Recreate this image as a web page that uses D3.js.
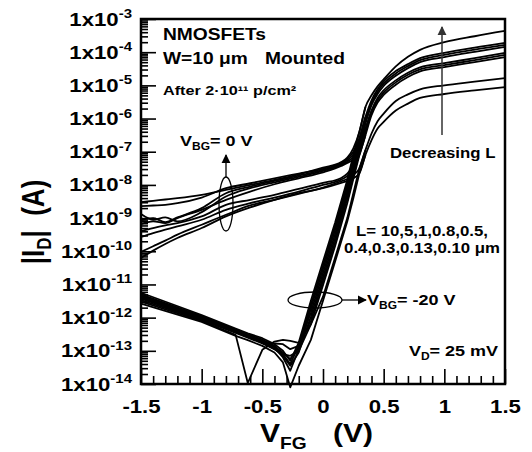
<!DOCTYPE html>
<html>
<head>
<meta charset="utf-8">
<script src="https://cdn.jsdelivr.net/npm/d3@7"></script>
<style>
  body { margin: 0; background: #fff; }
  svg { display: block; }
  text { font-family: "Liberation Sans", Arial, sans-serif; font-weight: bold; fill: #000; white-space: pre; }
</style>
</head>
<body>
<svg></svg>
<script>
const width = 532;
const height = 452;

// channel lengths (um), curves ordered from highest to lowest on-current
const lengths = ['0.10', '0.13', '0.3', '0.4', '0.5', '0.8', '1', '5', '10'];

// above ~0.3 V both back-gate biases give the same curve
const vgHigh = [0.3, 0.35, 0.4, 0.45, 0.5, 0.6, 0.7, 0.8, 1.0, 1.25, 1.5];
const logIdHigh = [
  [-6.4, -5.65, -5.3, -5.03, -4.82, -4.43, -4.14, -3.93, -3.7, -3.52, -3.36],
  [-6.6, -5.95, -5.45, -5.12, -4.88, -4.57, -4.36, -4.18, -4.02, -3.86, -3.72],
  [-6.7, -6.05, -5.52, -5.19, -4.95, -4.64, -4.42, -4.24, -4.08, -3.92, -3.78],
  [-6.8, -6.15, -5.6, -5.26, -5.02, -4.71, -4.48, -4.30, -4.15, -3.99, -3.84],
  [-6.9, -6.3, -5.75, -5.38, -5.15, -4.85, -4.62, -4.46, -4.33, -4.18, -4.02],
  [-7.0, -6.4, -5.83, -5.45, -5.22, -4.91, -4.68, -4.52, -4.39, -4.24, -4.08],
  [-7.1, -6.5, -5.9, -5.52, -5.29, -4.98, -4.75, -4.58, -4.45, -4.3, -4.15],
  [-7.5, -6.95, -6.45, -6.08, -5.85, -5.47, -5.27, -5.12, -5.0, -4.89, -4.78],
  [-7.65, -7.1, -6.65, -6.3, -6.1, -5.76, -5.55, -5.38, -5.26, -5.15, -5.05]
];

// VBG = 0 V, low VFG part
const vgLow0 = [-1.5, -1.4, -1.3, -1.2, -1.0, -0.8, -0.6, -0.4, -0.2, 0, 0.15, 0.2, 0.25];
const logIdLow0 = [
  [-8.52, -8.48, -8.44, -8.4, -8.3, -8.15, -8.0, -7.85, -7.68, -7.48, -7.31, -7.18, -6.9],
  [-8.64, -8.62, -8.6, -8.55, -8.38, -8.1, -7.95, -7.8, -7.66, -7.52, -7.34, -7.22, -7.0],
  [-9.06, -9.0, -9.12, -8.98, -8.7, -8.25, -8.05, -7.88, -7.72, -7.55, -7.37, -7.26, -7.08],
  [-8.88, -9.05, -8.98, -9.1, -8.82, -8.35, -8.1, -7.92, -7.76, -7.58, -7.40, -7.3, -7.15],
  [-9.18, -9.1, -9.15, -9.0, -8.75, -8.45, -8.2, -7.98, -7.8, -7.62, -7.43, -7.34, -7.22],
  [-9.39, -9.3, -9.22, -9.15, -8.95, -8.6, -8.45, -8.3, -8.12, -7.94, -7.79, -7.66, -7.42],
  [-9.57, -9.45, -9.35, -9.25, -9.05, -8.75, -8.55, -8.38, -8.2, -8.0, -7.84, -7.73, -7.52],
  [-10.02, -9.85, -9.68, -9.5, -9.2, -8.9, -8.62, -8.45, -8.27, -8.08, -7.89, -7.82, -7.7],
  [-10.2, -9.98, -9.78, -9.6, -9.3, -8.95, -8.68, -8.45, -8.25, -8.1, -7.94, -7.88, -7.8]
];

// VBG = -20 V, low VFG part
const vgLow20 = [-1.5, -1.0, -0.72, -0.62, -0.5, -0.4, -0.33, -0.27, -0.2, -0.1, 0, 0.1, 0.2, 0.25];
const logIdLow20 = [
  [-11.25, -11.92, -12.33, -12.47, -12.62, -12.8, -13.0, -13.3, -12.75, -11.49, -10.31, -9.13, -7.85, -7.1],
  [-11.30, -11.95, -12.36, -12.50, -12.66, -12.85, -13.1, -13.4, -12.85, -11.61, -10.43, -9.25, -7.97, -7.25],
  [-11.33, -11.97, -12.38, -12.52, -12.70, -12.9, -13.2, -13.6, -12.95, -11.72, -10.54, -9.36, -8.08, -7.37],
  [-11.36, -12.00, -12.40, -12.55, -12.72, -12.88, -13.05, -13.25, -12.9, -11.84, -10.66, -9.48, -8.2, -7.5],
  [-11.40, -12.02, -12.42, -12.57, -12.75, -12.95, -13.15, -13.45, -13.05, -11.96, -10.78, -9.60, -8.3, -7.6],
  [-11.43, -12.05, -12.44, -12.58, -12.72, -12.78, -12.8, -12.95, -12.85, -12.08, -10.90, -9.72, -8.42, -7.7],
  [-11.47, -12.07, -12.46, -12.60, -12.78, -12.95, -13.1, -13.15, -13.0, -12.20, -11.02, -9.84, -8.55, -7.82],
  [-11.52, -12.10, -12.52, -13.97, -12.97, -12.72, -12.67, -12.7, -12.76, -12.2, -11.37, -10.19, -9.0, -8.25],
  [-11.58, -12.13, -12.55, -12.68, -12.85, -13.05, -13.35, -14.1, -13.45, -12.67, -11.49, -10.31, -9.1, -8.4]
];

const xTickValues = [-1.5, -1, -0.5, 0, 0.5, 1, 1.5];
const xTickLabels = ['-1.5', '-1', '-0.5', '0', '0.5', '1', '1.5'];
const yExponents = [-14, -13, -12, -11, -10, -9, -8, -7, -6, -5, -4, -3];

const SX = 1.2; // the original lettering is a bit wide

const svg = d3.select('svg').attr('width', width).attr('height', height);
svg.append('rect').attr('width', width).attr('height', height).attr('fill', '#fff');

const x = d3.scaleLinear().domain([-1.5, 1.5]).range([141, 505]);
const y = d3.scaleLog().domain([1e-14, 1e-3]).range([384, 19]);

const defs = svg.append('defs');
function marker(id, color) {
  defs.append('marker')
    .attr('id', id)
    .attr('viewBox', '0 0 10 10')
    .attr('refX', 9).attr('refY', 5)
    .attr('markerWidth', 9).attr('markerHeight', 10)
    .attr('markerUnits', 'userSpaceOnUse')
    .attr('orient', 'auto')
    .append('path').attr('d', 'M0,0L10,5L0,10z').attr('fill', color);
}
marker('head', '#000');
marker('headGray', '#333');

// ticks
const xMinor = d3.range(-15, 16).filter(k => k % 5 !== 0).map(k => k / 10);
const yMinor = [];
yExponents.slice(0, -1).forEach(e => { for (let k = 2; k <= 9; k++) yMinor.push(k * Math.pow(10, e)); });

function cleanAxis(g) {
  g.select('.domain').remove();
  g.selectAll('line').attr('stroke', '#000').attr('stroke-width', 1.6);
}

svg.append('g').attr('transform', 'translate(0,384)')
  .call(d3.axisBottom(x).tickValues(xMinor).tickSize(-8).tickFormat(''))
  .call(cleanAxis);
const xAxis = svg.append('g').attr('transform', 'translate(0,384)')
  .call(d3.axisBottom(x).tickValues(xTickValues).tickSize(-15).tickPadding(16)
    .tickFormat((d, i) => xTickLabels[i]))
  .call(cleanAxis);
xAxis.selectAll('text')
  .attr('font-size', 18.5)
  .attr('font-family', '"Liberation Sans", Arial, sans-serif')
  .attr('font-weight', 'bold')
  .attr('transform', `scale(${SX},1)`)
  .attr('x', 0);

svg.append('g').attr('transform', 'translate(141,0)')
  .call(d3.axisLeft(y).tickValues(yMinor).tickSize(-7).tickFormat(''))
  .call(cleanAxis);
svg.append('g').attr('transform', 'translate(141,0)')
  .call(d3.axisLeft(y).tickValues(yExponents.map(e => Math.pow(10, e))).tickSize(-15).tickFormat(''))
  .call(cleanAxis);

function label(px, py, parts, size, anchor, extra) {
  const t = svg.append('text')
    .attr('transform', `translate(${px},${py}) scale(${SX},1)` + (extra || ''))
    .attr('text-anchor', anchor || 'start')
    .attr('font-size', size);
  parts.forEach(p => {
    const s = t.append('tspan').text(p[0]);
    if (p[1]) s.attr('font-size', p[1]);
    if (p[2]) s.attr('dy', p[2]);
  });
  return t;
}

// y tick labels 1x10^n
yExponents.forEach(e => {
  label(132, y(Math.pow(10, e)) + 6.5, [['1x10'], [String(e), 12.5, -7.5]], 18.5, 'end');
});

// curves: VBG = 0 drawn smooth through the knee, VBG = -20 kept sharp at the minima
const smooth = d3.line().curve(d3.curveMonotoneX).x(d => x(d[0])).y(d => y(Math.pow(10, d[1])));
const sharp = d3.line().x(d => x(d[0])).y(d => y(Math.pow(10, d[1])));
const curves0 = [];
const curves20 = [];
lengths.forEach((L, i) => {
  const high = vgHigh.map((v, j) => [v, logIdHigh[i][j]]);
  curves0.push(vgLow0.map((v, j) => [v, logIdLow0[i][j]]).concat(high));
  curves20.push(vgLow20.map((v, j) => [v, logIdLow20[i][j]]).concat(high.slice(0, 2)));
});
const curveGroup = svg.append('g')
  .attr('fill', 'none')
  .attr('stroke', '#000')
  .attr('stroke-width', 1.8)
  .attr('stroke-linejoin', 'round');
curveGroup.selectAll('.vbg0').data(curves0).join('path').attr('class', 'vbg0').attr('d', smooth);
curveGroup.selectAll('.vbg20').data(curves20).join('path').attr('class', 'vbg20').attr('d', sharp);

// frame
svg.append('rect')
  .attr('x', x(-1.5)).attr('y', y(1e-3))
  .attr('width', x(1.5) - x(-1.5)).attr('height', y(1e-14) - y(1e-3))
  .attr('fill', 'none').attr('stroke', '#000').attr('stroke-width', 2.5);

// axis titles
label(260, 442, [['V'], ['FG', 16, 7]], 25);
label(333, 442, [['(V)']], 25);
label(44, 222, [['|I'], ['D', 17, 6], ['|', 26, -6], ['  (A)']], 26, 'middle', ' rotate(-90)');

// annotations
label(163, 40, [['NMOSFETs']], 16);
label(163, 64, [['W=10 \u03bcm']], 16);
label(265, 64, [['Mounted']], 16);
label(163, 95, [['After 2\u00b710\u00b9\u00b9 p/cm\u00b2']], 13.5);

label(180, 146, [['V'], ['BG', 10, 4], ['= 0 V', 15, -4]], 15);
svg.append('ellipse').attr('cx', 226).attr('cy', 204).attr('rx', 7).attr('ry', 27)
  .attr('fill', 'none').attr('stroke', '#000').attr('stroke-width', 1.3);
svg.append('line').attr('x1', 226).attr('y1', 177).attr('x2', 226).attr('y2', 155)
  .attr('stroke', '#000').attr('stroke-width', 1.3).attr('marker-end', 'url(#head)');

svg.append('line').attr('x1', 442).attr('y1', 135).attr('x2', 442).attr('y2', 27)
  .attr('stroke', '#333').attr('stroke-width', 1.5).attr('marker-end', 'url(#headGray)');
label(390, 158, [['Decreasing L']], 14);

label(422, 236, [['L= 10,5,1,0.8,0.5,']], 14, 'middle');
label(422, 253, [['0.4,0.3,0.13,0.10 \u03bcm']], 14, 'middle');

svg.append('ellipse').attr('cx', 315).attr('cy', 300).attr('rx', 27).attr('ry', 8)
  .attr('fill', 'none').attr('stroke', '#000').attr('stroke-width', 1.3);
svg.append('line').attr('x1', 342).attr('y1', 300).attr('x2', 366).attr('y2', 300)
  .attr('stroke', '#000').attr('stroke-width', 1.3).attr('marker-end', 'url(#head)');
label(367, 305, [['V'], ['BG', 10, 4], ['= -20 V', 15, -4]], 15);

label(498, 356, [['V'], ['D', 10, 4], ['= 25 mV', 15, -4]], 15, 'end');
</script>
</body>
</html>
